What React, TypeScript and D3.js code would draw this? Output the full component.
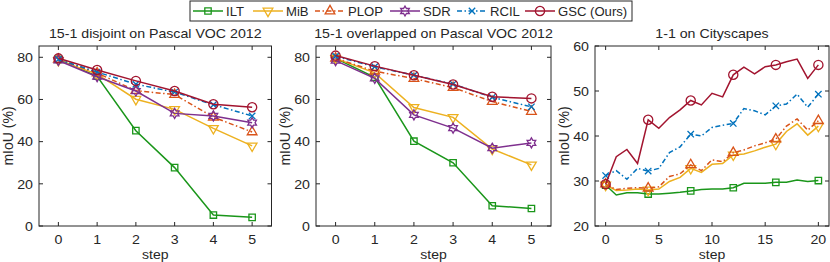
import React from "react";
import * as d3 from "d3";

// method names / styles
const methods = ["ILT", "MiB", "PLOP", "SDR", "RCIL", "GSC (Ours)"];
const colors = ["#1a961a", "#EDB120", "#D95319", "#7E2F8E", "#0072BD", "#A2142F"];
const markers = ["square", "triDown", "triUp", "hexagram", "x", "circle"];
const dashes = [null, null, "5,2.5,1.5,2.5", null, "5,2.5,1.5,2.5", null];

const vocSteps = [0, 1, 2, 3, 4, 5];
const vocTicksY = [0, 20, 40, 60, 80];

// 15-1 disjoint
const disjointILT = [79, 71, 45.2, 27.7, 5.2, 4.1];
const disjointMiB = [78.5, 72, 60.1, 55.3, 46.3, 38.0];
const disjointPLOP = [79, 72.5, 64.2, 62.3, 51.6, 44.6];
const disjointSDR = [78.5, 70.8, 64, 53.4, 52.2, 49.0];
const disjointRCIL = [79, 73, 67.2, 63.5, 57.5, 52.2];
const disjointGSC = [79.5, 74.0, 68.8, 64.0, 57.7, 56.3];

// 15-1 overlapped
const overlapILT = [79.5, 70.5, 40.2, 30.0, 9.6, 8.3];
const overlapMiB = [79.5, 72.6, 56.2, 51.5, 36.5, 29.0];
const overlapPLOP = [79.5, 73.4, 69.9, 65.6, 59.0, 54.3];
const overlapSDR = [78.4, 70.0, 52.7, 46.4, 36.9, 39.4];
const overlapRCIL = [80.5, 75.5, 71.5, 67.3, 61.0, 56.5];
const overlapGSC = [80.8, 75.8, 71.5, 67.1, 61.3, 60.5];

// 1-1 cityscapes
const cityTicksX = [0, 5, 10, 15, 20];
const cityTicksY = [20, 30, 40, 50, 60];
const cityMarkerSteps = [0, 4, 8, 12, 16, 20];
const cityILT = [29.1, 26.9, 27.4, 27.4, 27.1, 27.1, 27.3, 27.5, 27.8, 28.1, 28.2, 28.2, 28.5, 29.5, 29.5, 29.5, 29.7, 29.7, 30.2, 29.9, 30.1];
const cityMiB = [29.1, 27.9, 28.0, 28.2, 28.0, 28.2, 29.9, 30.8, 32.8, 31.9, 33.7, 33.9, 35.8, 36.0, 36.7, 37.5, 38.2, 41.0, 42.7, 40.2, 42.2];
const cityPLOP = [29.3, 28.1, 28.4, 28.5, 28.4, 28.7, 31.0, 31.6, 33.6, 32.3, 34.7, 34.3, 36.3, 36.9, 37.8, 38.5, 39.3, 42.2, 43.8, 41.3, 43.4];
const cityRCIL = [31.2, 32.3, 30.4, 32.8, 32.2, 32.8, 36.3, 37.6, 40.4, 40.0, 41.9, 42.4, 42.8, 46.1, 45.6, 44.7, 46.7, 47.1, 49.3, 46.4, 49.3];
const cityGSC = [29.3, 35.4, 37.0, 33.9, 43.6, 41.7, 44.1, 45.8, 47.9, 46.9, 49.5, 48.7, 53.6, 55.3, 53.8, 55.4, 55.8, 56.5, 57.1, 52.8, 55.8];

const TXT = "#262626";
const FONT = "'Liberation Sans', Arial, sans-serif";

const markerPath = (shape: string) => {
  const poly = (n: number, r: number, rot: number) =>
    "M" + d3.range(n).map((i) => {
      const a = rot + (i * 2 * Math.PI) / n;
      return [r * Math.cos(a), r * Math.sin(a)].join(",");
    }).join("L") + "Z";
  switch (shape) {
    case "square":
      return "M-3.2,-3.2H3.2V3.2H-3.2Z";
    case "circle":
      return "M4.6,0A4.6,4.6 0 1,1 -4.6,0A4.6,4.6 0 1,1 4.6,0Z";
    case "triUp":
      return poly(3, 5.6, -Math.PI / 2);
    case "triDown":
      return poly(3, 5.6, Math.PI / 2);
    case "x":
      return "M-3.2,-3.2L3.2,3.2M-3.2,3.2L3.2,-3.2";
    case "hexagram": {
      const pts = d3.range(12).map((i) => {
        const r = i % 2 ? 2.9 : 5;
        const a = -Math.PI / 2 + (i * Math.PI) / 6;
        return [r * Math.cos(a), r * Math.sin(a)].join(",");
      });
      return "M" + pts.join("L") + "Z";
    }
  }
  return "";
};

const Txt = ({ x, y, anchor = "middle", size = 13.5, children, sx = 1.05 }: any) => (
  <text
    transform={`translate(${x},${y}) scale(${sx},1)`}
    textAnchor={anchor}
    fontSize={size}
    fontFamily={FONT}
    fill={TXT}
  >
    {children}
  </text>
);

const Panel = ({ x0, x1, xDomain, yDomain, xTicks, yTicks, steps, series, idxs, title, markerSteps }: any) => {
  const top = 46, bottom = 226;
  const x = d3.scaleLinear().domain(xDomain).range([x0, x1]);
  const y = d3.scaleLinear().domain(yDomain).range([bottom, top]);
  const line = d3.line<number>().x((_, i) => x(steps[i])).y((d) => y(d));
  const tl = 4;
  return (
    <g>
      <rect x={x0} y={top} width={x1 - x0} height={bottom - top} fill="#fff" stroke={TXT} strokeWidth={1} />
      {xTicks.map((t: number) => (
        <g key={"xt" + t}>
          <line x1={x(t)} x2={x(t)} y1={bottom} y2={bottom - tl} stroke={TXT} />
          <line x1={x(t)} x2={x(t)} y1={top} y2={top + tl} stroke={TXT} />
          <Txt x={x(t)} y={243.5}>{t}</Txt>
        </g>
      ))}
      {yTicks.map((t: number) => (
        <g key={"yt" + t}>
          <line x1={x0} x2={x0 + tl} y1={y(t)} y2={y(t)} stroke={TXT} />
          <line x1={x1} x2={x1 - tl} y1={y(t)} y2={y(t)} stroke={TXT} />
          <Txt x={x0 - 6} y={y(t) + 4.8} anchor="end">{t}</Txt>
        </g>
      ))}
      {series.map((vals: number[], k: number) => {
        const m = idxs[k];
        const ms = markerSteps ?? steps;
        return (
          <g key={"s" + k}>
            <path d={line(vals) ?? ""} fill="none" stroke={colors[m]} strokeWidth={1.5}
              strokeDasharray={dashes[m] ?? undefined} />
            {ms.map((s: number) => (
              <path key={s} d={markerPath(markers[m])}
                transform={`translate(${x(s)},${y(vals[steps.indexOf(s)])})`}
                fill="none" stroke={colors[m]} strokeWidth={1.3} />
            ))}
          </g>
        );
      })}
      <Txt x={(x0 + x1) / 2} y={38}>{title}</Txt>
      <Txt x={(x0 + x1) / 2} y={258.5} size={13} sx={1.08}>step</Txt>
      <text transform={`translate(${x0 - 26.5},${(top + bottom) / 2}) rotate(-90)`}
        textAnchor="middle" fontSize={14} fontFamily={FONT} fill={TXT}>mIoU (%)</text>
    </g>
  );
};

const Legend = () => {
  const starts = [193, 253, 315, 390, 457, 525];
  const cy = 11;
  return (
    <g>
      <rect x={190} y={1} width={442} height={20} fill="#fff" stroke={TXT} strokeWidth={1} />
      {methods.map((name, i) => (
        <g key={name}>
          <line x1={starts[i]} x2={starts[i] + 30} y1={cy} y2={cy} stroke={colors[i]} strokeWidth={1.5}
            strokeDasharray={dashes[i] ?? undefined} />
          <path d={markerPath(markers[i])} transform={`translate(${starts[i] + 15},${cy})`}
            fill="none" stroke={colors[i]} strokeWidth={1.3} />
          <Txt x={starts[i] + 33} y={cy + 4.5} anchor="start" size={12.5} sx={1.05}>{name}</Txt>
        </g>
      ))}
    </g>
  );
};

export default function App() {
  return (
    <svg width={830} height={262} style={{ position: "absolute", left: 0, top: 0, background: "#fff" }}>
      <Panel x0={39} x1={271.5} xDomain={[-0.5, 5.5]} yDomain={[0, 85.35]} xTicks={vocSteps} yTicks={vocTicksY}
        steps={vocSteps} idxs={[0, 1, 2, 3, 4, 5]} title="15-1 disjoint on Pascal VOC 2012"
        series={[disjointILT, disjointMiB, disjointPLOP, disjointSDR, disjointRCIL, disjointGSC]} />
      <Panel x0={316} x1={551} xDomain={[-0.5, 5.5]} yDomain={[0, 85.35]} xTicks={vocSteps} yTicks={vocTicksY}
        steps={vocSteps} idxs={[0, 1, 2, 3, 4, 5]} title="15-1 overlapped on Pascal VOC 2012"
        series={[overlapILT, overlapMiB, overlapPLOP, overlapSDR, overlapRCIL, overlapGSC]} />
      <Panel x0={595} x1={829} xDomain={[-1, 21]} yDomain={[20, 60]} xTicks={cityTicksX} yTicks={cityTicksY}
        steps={d3.range(cityILT.length)} idxs={[0, 1, 2, 4, 5]} title="1-1 on Cityscapes" markerSteps={cityMarkerSteps}
        series={[cityILT, cityMiB, cityPLOP, cityRCIL, cityGSC]} />
      <Legend />
    </svg>
  );
}
